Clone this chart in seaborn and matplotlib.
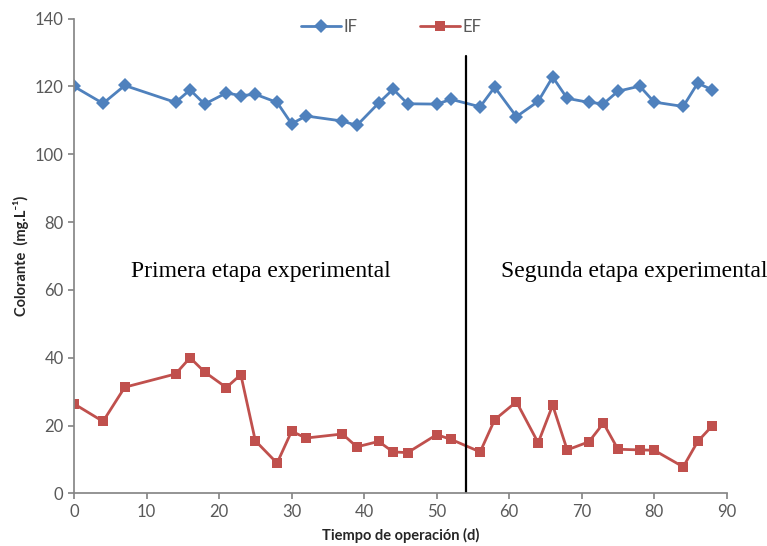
"""Colorante IF / EF vs tiempo de operación, con separación de etapas."""

import matplotlib.pyplot as plt
import pandas as pd
import seaborn as sns

# Días de muestreo (compartidos por ambas series)
DIAS = [0, 4, 7, 14, 16, 18, 21, 23, 25, 28, 30, 32, 37, 39, 42, 44, 46,
        50, 52, 56, 58, 61, 64, 66, 68, 71, 73, 75, 78, 80, 84, 86, 88]

# Colorante afluente (IF) y efluente (EF), mg/L
IF = [120.0, 115.0, 120.3, 115.3, 119.0, 114.8, 118.1, 117.3, 117.7, 115.3,
      109.0, 111.3, 109.8, 108.5, 115.1, 119.2, 114.9, 114.8, 116.2, 114.0,
      119.8, 111.1, 115.6, 122.8, 116.5, 115.3, 114.9, 118.6, 120.1, 115.4,
      114.1, 121.0, 119.0]
EF = [26.4, 21.2, 31.3, 35.2, 40.0, 35.8, 31.2, 35.0, 15.5, 8.9,
      18.3, 16.3, 17.5, 13.7, 15.3, 12.2, 12.0, 17.3, 15.9, 12.2,
      21.7, 27.0, 14.9, 26.0, 12.8, 15.2, 20.7, 13.0, 12.8, 12.7,
      7.8, 15.3, 19.9]

CAMBIO_ETAPA = 54
ETAPAS = ["Primera etapa experimental", "Segunda etapa experimental"]

PALETTE = {"IF": "#4F81BD", "EF": "#C0504D"}
MARKERS = {"IF": "D", "EF": "s"}
GRIS = "#868686"
TEXTO = "#595959"


def build_df():
    a = pd.DataFrame({"Tiempo": DIAS, "Colorante": IF, "Serie": "IF"})
    b = pd.DataFrame({"Tiempo": DIAS, "Colorante": EF, "Serie": "EF"})
    return pd.concat([a, b], ignore_index=True)


def main():
    sns.set_theme(style="ticks")
    plt.rcParams["font.family"] = ["Lato", "DejaVu Sans"]

    fig, ax = plt.subplots(figsize=(7.67, 5.46), dpi=100)
    fig.subplots_adjust(left=0.0965, right=0.9475, bottom=0.0965, top=0.9658)

    sns.lineplot(
        data=build_df(), x="Tiempo", y="Colorante", hue="Serie", style="Serie",
        palette=PALETTE, markers=MARKERS, dashes=False, linewidth=2,
        markersize=7, markeredgewidth=0, ax=ax,
    )

    ax.set_xlim(0, 90)
    ax.set_ylim(0, 140)
    ax.set_xticks(range(0, 91, 10))
    ax.set_yticks(range(0, 141, 20))

    # separación entre etapas
    ax.axvline(CAMBIO_ETAPA, ymin=0, ymax=129 / 140, color="black", lw=1.6)
    ax.text(25.8, 65.5, ETAPAS[0], ha="center", va="center",
            family="Liberation Serif", fontsize=17, color="black")
    ax.text(77.2, 65.5, ETAPAS[1], ha="center", va="center",
            family="Liberation Serif", fontsize=17, color="black", clip_on=False)

    ax.set_xlabel("Tiempo de operación (d)", fontsize=10.5, fontweight="bold",
                  color="#262626", labelpad=6)
    ax.set_ylabel("Colorante  (mg.L⁻¹)", fontsize=10.5, fontweight="bold",
                  color="#262626", labelpad=4)

    for s in ("top", "right"):
        ax.spines[s].set_visible(False)
    for s in ("left", "bottom"):
        ax.spines[s].set_color(GRIS)
    ax.tick_params(colors=GRIS, labelcolor=TEXTO, labelsize=12, length=4)

    handles, labels = ax.get_legend_handles_labels()
    ax.legend(handles, labels, ncol=2, frameon=False, loc="center",
              bbox_to_anchor=(0.486, 0.982), columnspacing=3.8,
              handlelength=2.4, handletextpad=0.1, fontsize=12,
              labelcolor=TEXTO)

    fig.savefig("out.png", dpi=100)


if __name__ == "__main__":
    main()
